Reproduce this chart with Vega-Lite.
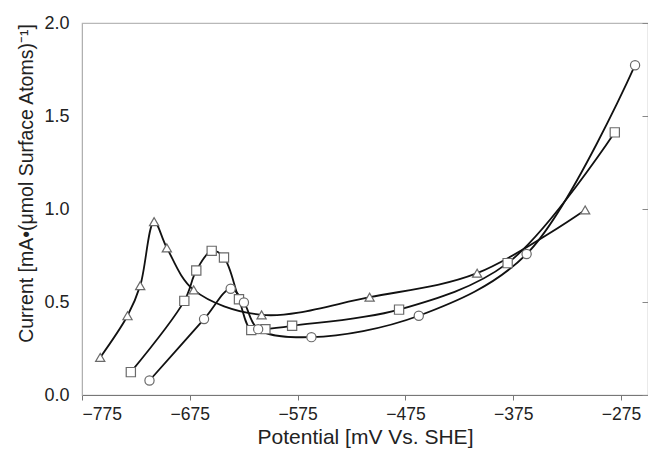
{
  "$schema": "https://vega.github.io/schema/vega-lite/v6.json",
  "width": 566,
  "height": 372,
  "autosize": {"type": "none"},
  "padding": {"left": 82, "top": 23, "right": 0, "bottom": 65},
  "background": "white",
  "config": {
    "font": "Liberation Sans",
    "view": {"stroke": "#b8b8b8", "strokeWidth": 1.2},
    "axis": {"grid": false, "labelFont": "Liberation Sans", "titleFont": "Liberation Sans", "labelColor": "#222", "titleColor": "#222", "titleFontWeight": "normal"}
  },
  "data": {"values": [
    {"series": "Triangle", "potential": -758.1, "current": 0.202},
    {"series": "Triangle", "potential": -732.8, "current": 0.426},
    {"series": "Triangle", "potential": -721.0, "current": 0.588},
    {"series": "Triangle", "potential": -708.1, "current": 0.932},
    {"series": "Triangle", "potential": -696.3, "current": 0.791},
    {"series": "Triangle", "potential": -671.4, "current": 0.565},
    {"series": "Triangle", "potential": -608.4, "current": 0.431},
    {"series": "Triangle", "potential": -508.2, "current": 0.526},
    {"series": "Triangle", "potential": -408.5, "current": 0.655},
    {"series": "Triangle", "potential": -308.3, "current": 0.995},
    {"series": "Square", "potential": -729.7, "current": 0.123},
    {"series": "Square", "potential": -680.1, "current": 0.506},
    {"series": "Square", "potential": -669.0, "current": 0.669},
    {"series": "Square", "potential": -654.7, "current": 0.775},
    {"series": "Square", "potential": -643.3, "current": 0.739},
    {"series": "Square", "potential": -629.4, "current": 0.515},
    {"series": "Square", "potential": -618.0, "current": 0.349},
    {"series": "Square", "potential": -604.9, "current": 0.354},
    {"series": "Square", "potential": -580.1, "current": 0.372},
    {"series": "Square", "potential": -480.9, "current": 0.459},
    {"series": "Square", "potential": -380.2, "current": 0.709},
    {"series": "Square", "potential": -280.8, "current": 1.412},
    {"series": "Circle", "potential": -712.4, "current": 0.078},
    {"series": "Circle", "potential": -661.8, "current": 0.408},
    {"series": "Circle", "potential": -637.1, "current": 0.571},
    {"series": "Circle", "potential": -624.8, "current": 0.497},
    {"series": "Circle", "potential": -611.6, "current": 0.354},
    {"series": "Circle", "potential": -562.2, "current": 0.311},
    {"series": "Circle", "potential": -462.6, "current": 0.426},
    {"series": "Circle", "potential": -362.6, "current": 0.758},
    {"series": "Circle", "potential": -262.0, "current": 1.773}
  ]},
  "layer": [
    {
      "mark": {"type": "line", "interpolate": "catmull-rom", "color": "#111", "strokeWidth": 1.8},
      "encoding": {
        "x": {"field": "potential", "type": "quantitative", "scale": {"domain": [-775, -250], "nice": false, "zero": false},
              "axis": {"title": "Potential [mV Vs. SHE]", "values": [-775, -675, -575, -475, -375, -275], "domainColor": "#777", "tickColor": "#777", "tickSize": 5, "labelPadding": 5, "labelFontSize": 17.5, "titleFontSize": 21, "titlePadding": 4}},
        "y": {"field": "current", "type": "quantitative", "scale": {"domain": [0, 2], "nice": false},
              "axis": {"title": "Current [mA•(μmol Surface Atoms)⁻¹]", "values": [0, 0.5, 1, 1.5, 2], "format": ".1f", "ticks": false, "domainColor": "#b0b0b0", "labelPadding": 13, "labelFontSize": 18, "titleFontSize": 19.5, "titlePadding": 7, "titleY": 160}},
        "detail": {"field": "series"},
        "order": {"field": "potential"}
      }
    },
    {
      "mark": {"type": "point", "filled": true, "fill": "white", "stroke": "#6a6a6a", "strokeWidth": 1.2, "size": 85, "opacity": 1},
      "encoding": {
        "x": {"field": "potential", "type": "quantitative"},
        "y": {"field": "current", "type": "quantitative",
              "axis": {"orient": "right", "title": null, "labels": false, "domain": false, "values": [0, 0.5, 1, 1.5, 2], "tickSize": -6, "tickColor": "#888"}},
        "shape": {"field": "series", "type": "nominal", "legend": null,
                  "scale": {"domain": ["Triangle", "Square", "Circle"], "range": ["triangle-up", "square", "circle"]}}
      }
    }
  ],
  "resolve": {"axis": {"y": "independent"}}
}
